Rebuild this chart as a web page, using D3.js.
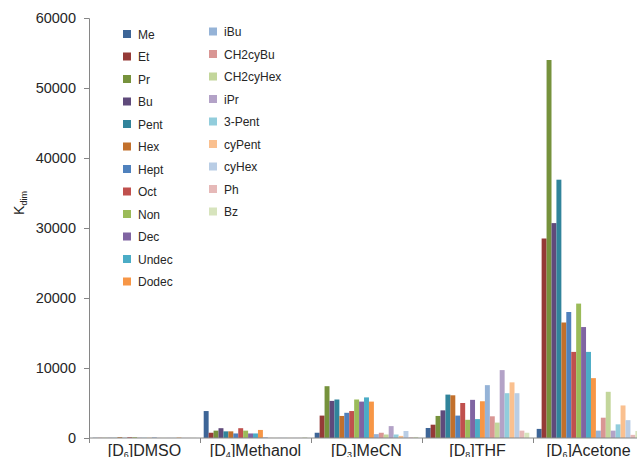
<!DOCTYPE html>
<html>
<head>
<meta charset="utf-8">
<script src="https://cdn.jsdelivr.net/npm/d3@7"></script>
<style>
  body { margin: 0; background: #fff; }
  svg { display: block; font-family: "Liberation Sans", Arial, sans-serif; }
</style>
</head>
<body>
<svg id="chart"></svg>
<script>
const width = 637;
const height = 457;

// Solvents (x categories) with the deuterium subscript
const solvents = ["DMSO", "Methanol", "MeCN", "THF", "Acetone"];
const deuterium = ["6", "4", "3", "8", "6"];

// Series names (legend order)
const series = ["Me", "Et", "Pr", "Bu", "Pent", "Hex", "Hept", "Oct", "Non", "Dec", "Undec", "Dodec",
  "iBu", "CH2cyBu", "CH2cyHex", "iPr", "3-Pent", "cyPent", "cyHex", "Ph", "Bz"];

const colors = ["#3d6597", "#953a37", "#76923c", "#5f4a7b", "#31849b", "#c2702c",
  "#4f81bd", "#c0504d", "#9bbb59", "#8064a2", "#4bacc6", "#f79646",
  "#95b3d7", "#d99694", "#c3d69b", "#b3a2c7", "#92cddc", "#fac08f", "#b9cde5", "#e6b9b8", "#d7e4bd"];

// Values per series, one per solvent: DMSO, Methanol, MeCN, THF, Acetone
const Me       = [30, 3850, 750, 1430, 1300];
const Et       = [30, 750, 3200, 1900, 28500];
const Pr       = [30, 1050, 7400, 3150, 54000];
const Bu       = [30, 1400, 5300, 3950, 30700];
const Pent     = [30, 950, 5500, 6200, 36900];
const Hex      = [120, 950, 3150, 6100, 16500];
const Hept     = [30, 650, 3600, 3200, 18000];
const Oct      = [120, 1400, 3850, 5000, 12300];
const Non      = [120, 1050, 5500, 2600, 19200];
const Dec      = [30, 650, 5200, 5450, 15850];
const Undec    = [30, 650, 5800, 2700, 12300];
const Dodec    = [30, 1150, 5200, 5250, 8550];
const iBu      = [100, 100, 550, 7550, 1050];
const CH2cyBu  = [20, 20, 750, 3100, 2900];
const CH2cyHex = [20, 20, 500, 2200, 6600];
const iPr      = [20, 20, 1700, 9700, 1050];
const Pent3    = [20, 20, 500, 6400, 1950];
const cyPent   = [100, 20, 300, 7950, 4650];
const cyHex    = [20, 20, 1000, 6400, 2550];
const Ph       = [20, 20, 100, 1050, 450];
const Bz       = [20, 100, 150, 750, 1000];

const seriesValues = [Me, Et, Pr, Bu, Pent, Hex, Hept, Oct, Non, Dec, Undec, Dodec,
  iBu, CH2cyBu, CH2cyHex, iPr, Pent3, cyPent, cyHex, Ph, Bz];

const yTicks = [0, 10000, 20000, 30000, 40000, 50000, 60000];

const svg = d3.select("#chart")
  .attr("width", width)
  .attr("height", height);

const margin = { top: 18, left: 89, bottom: 19 };
const plotRight = 644; // last category runs past the picture edge

const xScale = d3.scaleBand()
  .domain(solvents)
  .range([margin.left, plotRight]);

const xInner = d3.scaleBand()
  .domain(series)
  .range([0, xScale.bandwidth()])
  .paddingInner(0)
  .paddingOuter(0.75);

const yScale = d3.scaleLinear()
  .domain([0, 60000])
  .range([height - margin.bottom, margin.top]);

const axisColor = "#868686";
const textColor = "#262626";

// Bars
const groups = svg.append("g")
  .selectAll("g")
  .data(solvents)
  .join("g")
  .attr("transform", d => `translate(${xScale(d)},0)`);

groups.selectAll("rect")
  .data((d, i) => series.map((s, j) => ({ s, j, v: seriesValues[j][i] })))
  .join("rect")
  .attr("x", d => xInner(d.s))
  .attr("width", xInner.bandwidth())
  .attr("y", d => yScale(d.v))
  .attr("height", d => yScale(0) - yScale(d.v))
  .attr("fill", d => colors[d.j]);

// Y axis
const yAxisG = svg.append("g")
  .attr("transform", `translate(${margin.left},0)`)
  .call(d3.axisLeft(yScale).tickValues(yTicks).tickSize(5).tickPadding(8).tickFormat(d3.format("d")));

yAxisG.select(".domain").attr("stroke", axisColor);
yAxisG.selectAll(".tick line").attr("stroke", axisColor);
yAxisG.selectAll(".tick text")
  .attr("fill", textColor)
  .style("font-size", "14.5px");

// X axis line and category boundary ticks
const baseY = yScale(0);
svg.append("line")
  .attr("x1", margin.left).attr("x2", plotRight)
  .attr("y1", baseY).attr("y2", baseY)
  .attr("stroke", axisColor);

svg.append("g")
  .selectAll("line")
  .data(solvents)
  .join("line")
  .attr("x1", d => xScale(d) + 0.5).attr("x2", d => xScale(d) + 0.5)
  .attr("y1", baseY).attr("y2", baseY + 5)
  .attr("stroke", axisColor);

// Category labels with subscripts
const labels = svg.append("g")
  .selectAll("text")
  .data(solvents)
  .join("text")
  .attr("x", d => xScale(d) + xScale.bandwidth() / 2)
  .attr("y", 456)
  .attr("text-anchor", "middle")
  .attr("fill", textColor)
  .style("font-size", "16px");

labels.append("tspan").text("[D");
labels.append("tspan")
  .text((d, i) => deuterium[i])
  .style("font-size", "9px")
  .attr("dy", 1.5);
labels.append("tspan").text(d => "]" + d).attr("dy", -1.5);

// Y axis title
const yTitle = svg.append("text")
  .attr("transform", "translate(24,203) rotate(-90)")
  .attr("text-anchor", "middle")
  .attr("fill", textColor)
  .style("font-size", "14px");
yTitle.append("tspan").text("K");
yTitle.append("tspan").text("dim").style("font-size", "9px").attr("dy", 3);

// Legend: two columns
const legendCols = [
  { x: 123, y: 34, items: series.slice(0, 12), offset: 0 },
  { x: 209, y: 31.5, items: series.slice(12), offset: 12 }
];

legendCols.forEach(col => {
  const item = svg.append("g")
    .selectAll("g")
    .data(col.items)
    .join("g")
    .attr("transform", (d, i) => `translate(${col.x},${col.y + i * 22.5})`);

  item.append("rect")
    .attr("x", 0).attr("y", -4)
    .attr("width", 8).attr("height", 8)
    .attr("fill", (d, i) => colors[col.offset + i]);

  item.append("text")
    .attr("x", 15)
    .attr("y", 4.5)
    .attr("fill", textColor)
    .style("font-size", "12px")
    .text(d => d);
});
</script>
</body>
</html>
